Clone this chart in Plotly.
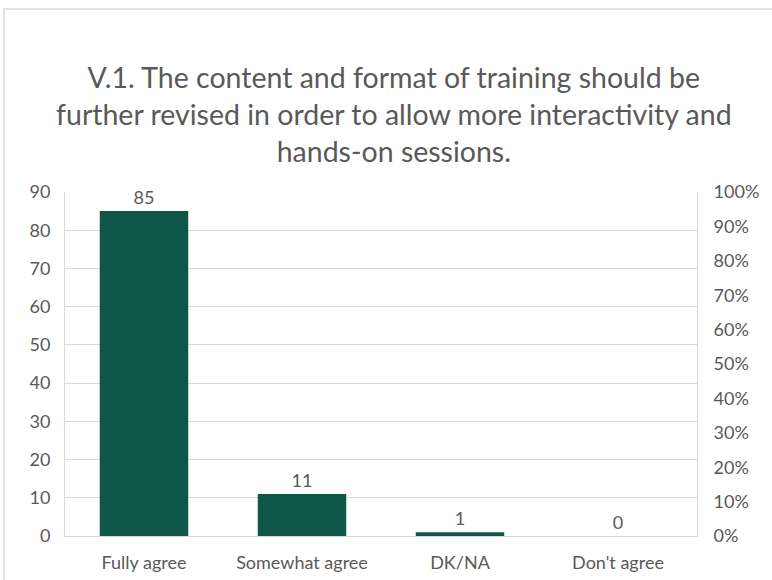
import plotly.graph_objects as go

# Survey responses for item V.1
categories = ["Fully agree", "Somewhat agree", "DK/NA", "Don't agree"]
counts = [85, 11, 1, 0]

title_lines = [
    "V.1. The content and format of training should be",
    "further revised in order to allow more interactivity and",
    "hands-on sessions.",
]

FONT = "Lato"
TEXT_GRAY = "#595959"
GRID_GRAY = "#D9D9D9"
BAR_GREEN = "#0E5748"

# Plot-area geometry in pixels (used to place the title and chart frame)
PLOT_L, PLOT_R, PLOT_T, PLOT_B = 65, 697, 192, 536
PW, PH = PLOT_R - PLOT_L, PLOT_B - PLOT_T


def px_x(x):
    return (x - PLOT_L) / PW


def px_y(y):
    return (PLOT_B - y) / PH


fig = go.Figure()

fig.add_trace(go.Bar(
    x=categories,
    y=counts,
    marker=dict(color=BAR_GREEN, line=dict(width=0)),
    width=0.56,
    text=[str(v) for v in counts],
    textposition="outside",
    cliponaxis=False,
    textfont=dict(family=FONT, size=18, color=TEXT_GRAY),
    showlegend=False,
))

# Placeholder trace so the secondary percentage axis is rendered
fig.add_trace(go.Scatter(
    x=categories,
    y=[None] * len(categories),
    yaxis="y2",
    mode="markers",
    showlegend=False,
    hoverinfo="skip",
))

tick_font = dict(family=FONT, size=18, color=TEXT_GRAY)

fig.update_layout(
    width=772,
    height=580,
    paper_bgcolor="white",
    plot_bgcolor="white",
    margin=dict(l=PLOT_L, r=772 - PLOT_R, t=PLOT_T, b=580 - PLOT_B),
    font=dict(family=FONT, color=TEXT_GRAY),
    xaxis=dict(
        showgrid=False,
        showline=True,
        linecolor=GRID_GRAY,
        linewidth=1,
        ticks="",
        tickfont=tick_font,
        ticklabelstandoff=10,
        automargin=False,
    ),
    yaxis=dict(
        range=[0, 90],
        dtick=10,
        showgrid=True,
        gridcolor=GRID_GRAY,
        gridwidth=1,
        zeroline=False,
        showline=True,
        linecolor=GRID_GRAY,
        linewidth=1,
        ticks="",
        tickfont=tick_font,
        ticklabelstandoff=10,
        automargin=False,
    ),
    yaxis2=dict(
        overlaying="y",
        side="right",
        range=[0, 1],
        dtick=0.1,
        tickformat=".0%",
        showgrid=False,
        zeroline=False,
        showline=True,
        linecolor=GRID_GRAY,
        linewidth=1,
        ticks="",
        tickfont=tick_font,
        ticklabelstandoff=12,
        automargin=False,
    ),
    annotations=[
        dict(
            text="<br>".join(title_lines),
            xref="paper",
            yref="paper",
            x=px_x(394),
            y=px_y(114),
            xanchor="center",
            yanchor="middle",
            align="center",
            showarrow=False,
            font=dict(family=FONT, size=28.5, color=TEXT_GRAY),
        )
    ],
    shapes=[
        dict(
            type="rect",
            xref="paper",
            yref="paper",
            x0=px_x(4),
            x1=px_x(790),
            y0=px_y(600),
            y1=px_y(9),
            line=dict(color=GRID_GRAY, width=1.5),
            fillcolor="rgba(0,0,0,0)",
            layer="below",
        )
    ],
)

fig.write_html("out.html")
